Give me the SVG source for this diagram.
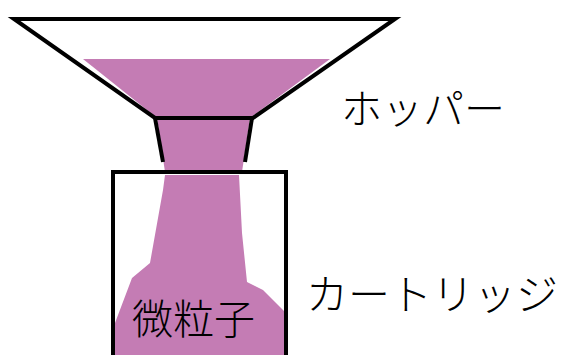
<svg xmlns="http://www.w3.org/2000/svg" width="563" height="355" viewBox="0 0 563 355">
  <style>
    .outline { fill: none; stroke: #000; stroke-width: 4; stroke-linejoin: miter; }
    .powder { fill: #c47cb4; }
    .label { font-family: "Noto Sans CJK JP", "Noto Sans", sans-serif; font-weight: 300; fill: #000; }
  </style>
  <rect width="563" height="355" fill="#fff"/>

  <!-- powder: hopper load, neck stream and pile in the cartridge -->
  <g id="powder">
    <polygon class="powder" points="83,59 330,59 250,118 157,118"/>
    <polygon class="powder" points="157,118 250,118 242,172 165,172"/>
    <polygon class="powder" points="165,175 239,175 242,233 247,282 263,290 286,313 286,355 115,355 115,323 132,278 150,263 163,190"/>
  </g>

  <!-- hopper -->
  <g id="hopper">
    <polygon class="outline" points="14,19 395,19 253,118 155,118"/>
    <line class="outline" x1="155" y1="118" x2="163" y2="162"/>
    <line class="outline" x1="252" y1="118" x2="245" y2="162"/>
  </g>

  <!-- cartridge -->
  <g id="cartridge">
    <polyline class="outline" points="113,360 113,172 286,172 286,360"/>
  </g>

  <g id="labels">
    <text class="label" x="341" y="124" font-size="41">ホッパー</text>
    <text class="label" x="306" y="310" font-size="42">カートリッジ</text>
    <text class="label" x="132" y="334" font-size="41">微粒子</text>
  </g>
</svg>
